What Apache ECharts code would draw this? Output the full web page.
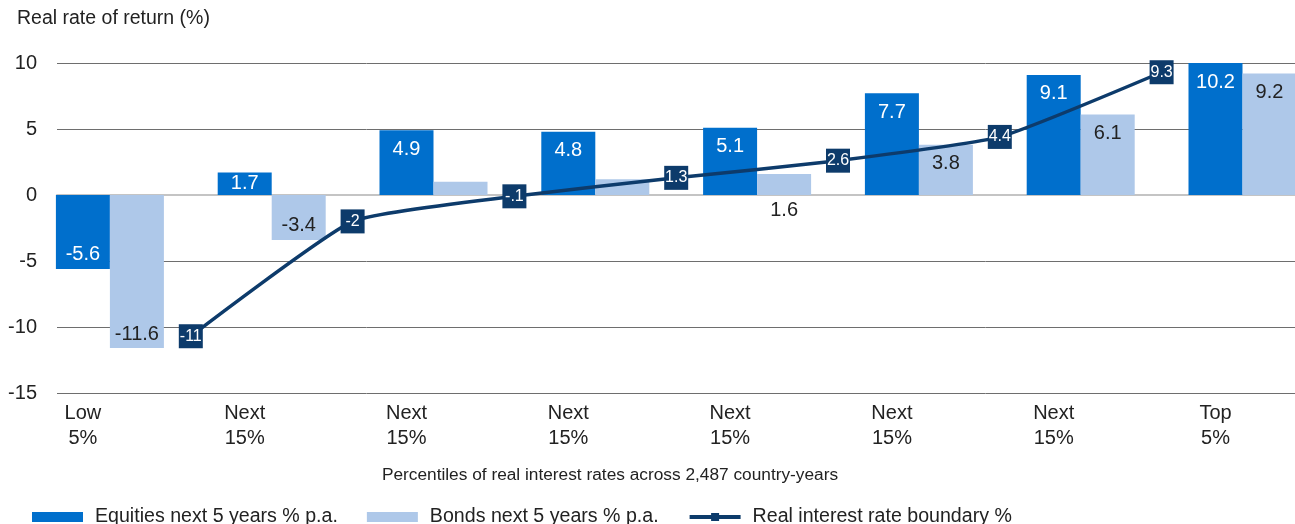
<!DOCTYPE html>
<html lang="en">
<head>
    <meta charset="UTF-8">
    <title>Real rate of return</title>
    <script src="https://cdn.jsdelivr.net/npm/echarts@6/dist/echarts.min.js"></script>
    <style>
        html, body { margin: 0; padding: 0; background: #fff; overflow: hidden; }
        /* 画布比窗口宽一点，最后一组柱子会被窗口裁掉，和原图一样 */
        #main { width: 1330px; height: 524px; }
    </style>
</head>
<body>
    <div id="main"></div>
</body>
</html>
<script type="text/javascript">
    // 数据
    var categories = ['Low\n5%', 'Next\n15%', 'Next\n15%', 'Next\n15%', 'Next\n15%', 'Next\n15%', 'Next\n15%', 'Top\n5%'];
    var equities = [-5.6, 1.7, 4.9, 4.8, 5.1, 7.7, 9.1, 10.2];
    var bonds = [-11.6, -3.4, 1.0, 1.2, 1.6, 3.8, 6.1, 9.2];
    var boundaries = [-10.7, -2, -0.1, 1.3, 2.6, 4.4, 9.3];
    var boundaryLabels = ['-11', '-2', '-.1', '1.3', '2.6', '4.4', '9.3'];
    var yTicks = [-15, -10, -5, 0, 5, 10];

    var font = 'Liberation Sans';
    var txt = '#222';
    var navy = '#0d3b6b';

    function barData(values, color, isBond) {
        return values.map(function (v) {
            var lab = { show: true, color: color, fontSize: 20, fontFamily: font };
            if (v >= 0) { lab.position = 'insideTop'; lab.distance = 9; }
            else { lab.position = 'insideBottom'; lab.distance = 4; }
            if (!isBond && v >= 0 && v < 2) { lab.position = 'inside'; }
            if (isBond && v > 0 && v < 1.5) lab.show = false;
            if (isBond && v >= 1.5 && v < 2) { lab.position = 'bottom'; lab.distance = 5; }
            return { value: v, label: lab };
        });
    }

    var lineData = boundaries.map(function (v, i) { return [i + 1, v]; });

    var myChart = echarts.init(document.getElementById('main'));
    var option = {
        animation: false,
        title: [{
            text: 'Real rate of return (%)',
            left: 12, top: 4,
            textStyle: { fontSize: 19.5, fontWeight: 'normal', color: txt, fontFamily: font }
        }, {
            text: 'Percentiles of real interest rates across 2,487 country-years',
            left: 605, top: 462, textAlign: 'center',
            textStyle: { fontSize: 17.3, fontWeight: 'normal', color: txt, fontFamily: font }
        }],
        legend: {
            left: 27, top: 502,
            itemWidth: 51, itemHeight: 10, itemGap: 29,
            textStyle: { fontSize: 19.6, color: txt, fontFamily: font, padding: [0, 0, 0, 7] },
            data: [
                { name: 'Equities next 5 years % p.a.', icon: 'rect' },
                { name: 'Bonds next 5 years % p.a.', icon: 'rect' },
                { name: 'Real interest rate boundary %', lineStyle: { width: 4, color: navy } }
            ]
        },
        grid: [
            { left: 29, top: 63, width: 1294.4, height: 330 },
            { left: 57, top: 63, width: 1238, height: 330 }
        ],
        xAxis: [{
            type: 'category', gridIndex: 0, data: categories,
            axisLine: { show: false }, axisTick: { show: false },
            axisLabel: { interval: 0, fontSize: 20, lineHeight: 25, color: txt, fontFamily: font, margin: 8, padding: [0, 54, 0, 0] }
        }, {
            type: 'value', gridIndex: 0, min: 0, max: 8, show: false
        }, {
            type: 'value', gridIndex: 1, min: 0, max: 1,
            axisLine: { show: true, onZero: true, lineStyle: { color: '#c4c4c4', width: 2 } },
            axisTick: { show: false }, axisLabel: { show: false }, splitLine: { show: false }
        }],
        yAxis: [{
            type: 'value', gridIndex: 0, min: yTicks[0], max: yTicks[yTicks.length - 1], interval: 5, show: false
        }, {
            type: 'value', gridIndex: 1, min: yTicks[0], max: yTicks[yTicks.length - 1], interval: 5,
            axisLine: { show: false }, axisTick: { show: false },
            axisLabel: { fontSize: 20, color: txt, fontFamily: font, margin: 20 },
            splitLine: { lineStyle: { color: '#6e6e6e', width: 1 } }
        }],
        series: [{
            name: 'Equities next 5 years % p.a.',
            type: 'bar', xAxisIndex: 0, yAxisIndex: 0,
            barWidth: 54, barGap: '0%',
            itemStyle: { color: '#006fcc' },
            data: barData(equities, '#fff', false)
        }, {
            name: 'Bonds next 5 years % p.a.',
            type: 'bar', xAxisIndex: 0, yAxisIndex: 0,
            barWidth: 54, barGap: '0%',
            itemStyle: { color: '#aec8e9' },
            data: barData(bonds, txt, true)
        }, {
            name: 'Real interest rate boundary %',
            type: 'line', xAxisIndex: 1, yAxisIndex: 0,
            smooth: 0.15, z: 5,
            symbol: 'rect', symbolSize: 24,
            lineStyle: { color: navy, width: 3.5 },
            itemStyle: { color: navy },
            label: {
                show: true, position: 'inside', color: '#fff', fontSize: 16, fontFamily: font,
                formatter: function (p) { return boundaryLabels[p.dataIndex]; }
            },
            data: lineData
        }]
    };
    myChart.setOption(option);
</script>
